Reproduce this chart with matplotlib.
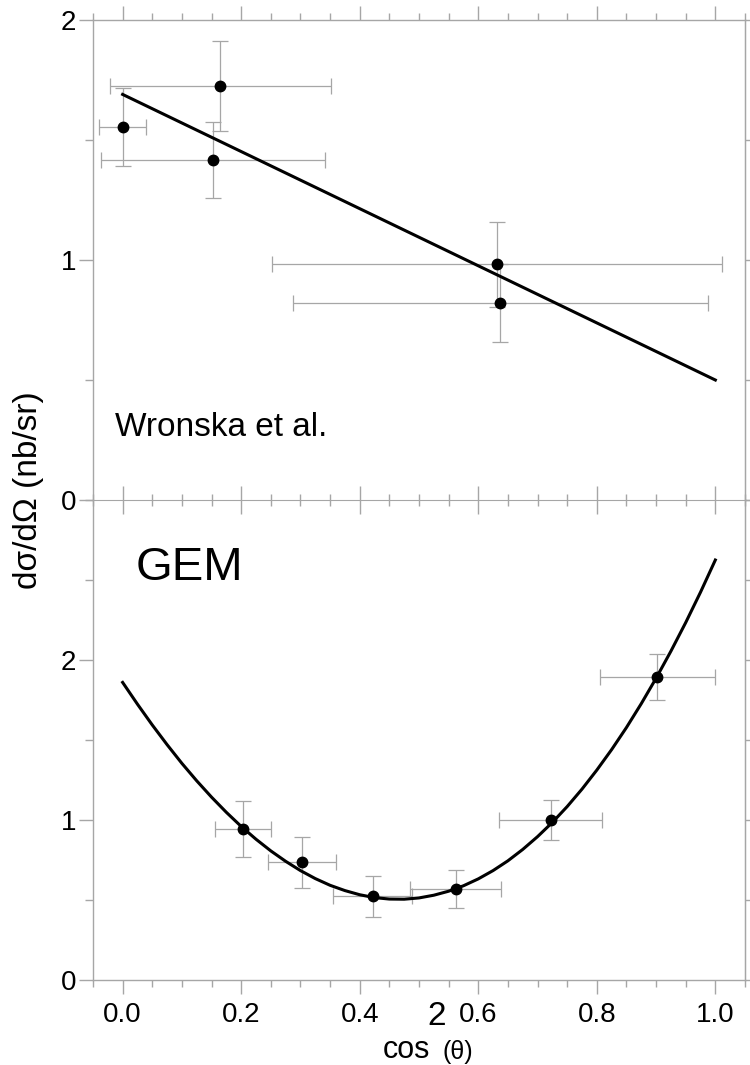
import matplotlib
matplotlib.use("Agg")
import matplotlib.pyplot as plt
from matplotlib.ticker import MultipleLocator

plt.rcParams["font.family"] = ["Liberation Sans", "DejaVu Sans"]

# top panel: Wronska et al.
w_x = [0.0, 0.165, 0.153, 0.632, 0.637]
w_y = [1.555, 1.725, 1.417, 0.983, 0.821]
w_xerr = [0.04, 0.186, 0.189, 0.38, 0.35]
w_yerr = [0.162, 0.188, 0.158, 0.177, 0.162]
w_fit_x = [0.0, 1.0]
w_fit_y = [1.69, 0.50]

# bottom panel: GEM
g_x = [0.203, 0.303, 0.422, 0.562, 0.722, 0.902]
g_y = [0.944, 0.736, 0.523, 0.569, 0.998, 1.896]
g_xerr = [0.048, 0.057, 0.067, 0.077, 0.087, 0.097]
g_yerr = [0.177, 0.158, 0.128, 0.12, 0.125, 0.143]
# curve every 0.025
g_fit_x = [0.0, 0.025, 0.05, 0.075, 0.10, 0.125, 0.15, 0.175, 0.20, 0.225,
           0.25, 0.275, 0.30, 0.325, 0.35, 0.375, 0.40, 0.425, 0.45, 0.475,
           0.50, 0.525, 0.55, 0.575, 0.60, 0.625, 0.65, 0.675, 0.70, 0.725,
           0.75, 0.775, 0.80, 0.825, 0.85, 0.875, 0.90, 0.925, 0.95, 0.975,
           1.0]
g_fit_y = [1.860, 1.724, 1.594, 1.471, 1.354, 1.245, 1.143, 1.048, 0.960,
           0.880, 0.807, 0.742, 0.684, 0.634, 0.592, 0.559, 0.533, 0.515,
           0.506, 0.505, 0.513, 0.530, 0.555, 0.589, 0.632, 0.684, 0.745,
           0.816, 0.896, 0.985, 1.084, 1.193, 1.312, 1.440, 1.578, 1.727,
           1.886, 2.055, 2.234, 2.424, 2.625]

x_ticks = [0.0, 0.2, 0.4, 0.6, 0.8, 1.0]
x_ticklabels = ["0.0", "0.2", "0.4", "0.6", "0.8", "1.0"]

GRAY = "#a6a6a6"

fig = plt.figure(figsize=(7.5, 10.65), dpi=100)
ax1 = fig.add_axes([0.124, 0.5305, 0.8693, 0.4507])
ax2 = fig.add_axes([0.124, 0.0798, 0.8693, 0.4507])


def style(ax, ymax, yticks, ylabels, xside):
    ax.set_xlim(-0.05, 1.05)
    ax.set_ylim(0, ymax)
    for s in ax.spines.values():
        s.set_color(GRAY)
        s.set_linewidth(1)
    ax.spines["bottom" if xside == "top" else "top"].set_visible(False)
    ax.set_yticks(yticks)
    ax.set_yticklabels(ylabels, fontsize=20)
    ax.yaxis.set_minor_locator(MultipleLocator(0.5))
    ax.tick_params(axis="y", which="major", direction="out", length=10,
                   color=GRAY, width=1, pad=2)
    ax.tick_params(axis="y", which="minor", direction="out", length=6,
                   color=GRAY, width=1)
    ax.set_xticks(x_ticks)
    ax.xaxis.set_minor_locator(MultipleLocator(0.05))
    if xside == "top":
        ax.xaxis.tick_top()
        ax.tick_params(axis="x", labeltop=False)
    ax.tick_params(axis="x", which="major", direction="out", length=10,
                   color=GRAY, width=1)
    ax.tick_params(axis="x", which="minor", direction="out", length=5,
                   color=GRAY, width=1)
    # short ticks on the right edge
    sec = ax.secondary_yaxis("right")
    sec.set_yticks(yticks)
    sec.yaxis.set_minor_locator(MultipleLocator(0.5))
    sec.tick_params(which="both", direction="out", length=5, color=GRAY,
                    width=1, labelright=False)
    sec.spines["right"].set_color(GRAY)


style(ax1, 2, [0, 1, 2], ["0", "1", "2"], "top")
style(ax2, 3, [0, 1, 2], ["0", "1", "2"], "bottom")

# shared boundary with crossing ticks
mid = ax2.secondary_xaxis("top")
mid.set_xticks(x_ticks)
mid.xaxis.set_minor_locator(MultipleLocator(0.05))
mid.tick_params(which="major", direction="inout", length=20, color=GRAY,
                width=1, labeltop=False)
mid.tick_params(which="minor", direction="inout", length=9, color=GRAY,
                width=1)
mid.spines["top"].set_color(GRAY)

ax2.set_xticklabels(x_ticklabels, fontsize=20)
ax2.tick_params(axis="x", pad=6)

for ax, x, y, xe, ye, fx, fy in [
        (ax1, w_x, w_y, w_xerr, w_yerr, w_fit_x, w_fit_y),
        (ax2, g_x, g_y, g_xerr, g_yerr, g_fit_x, g_fit_y)]:
    ax.errorbar(x, y, xerr=xe, yerr=ye, fmt="none", ecolor=GRAY,
                elinewidth=0.9, capsize=6, capthick=0.9, zorder=1)
    ax.plot(fx, fy, color="black", lw=2.2, zorder=2)
    ax.plot(x, y, "o", color="black", ms=7.5, zorder=3)

fig.text(115 / 750, 1 - 427 / 1065, "Wronska et al.", fontsize=24,
         va="center", ha="left")
fig.text(136 / 750, 1 - 568 / 1065, "GEM", fontsize=34,
         va="center", ha="left")

fig.text(28 / 750, 1 - 490 / 1065, "dσ/dΩ (nb/sr)", fontsize=24,
         rotation=90, va="center", ha="center")

# x label: cos, large superscript 2, subscript (θ)
fig.text(430 / 750, 1 - 1058 / 1065, "cos", fontsize=22,
         va="baseline", ha="right")
fig.text(427 / 750, 1 - 1025 / 1065, "2", fontsize=24,
         va="baseline", ha="left")
fig.text(443 / 750, 1 - 1059 / 1065, "(θ)", fontsize=18,
         va="baseline", ha="left")

fig.savefig("out.png", dpi=100)
